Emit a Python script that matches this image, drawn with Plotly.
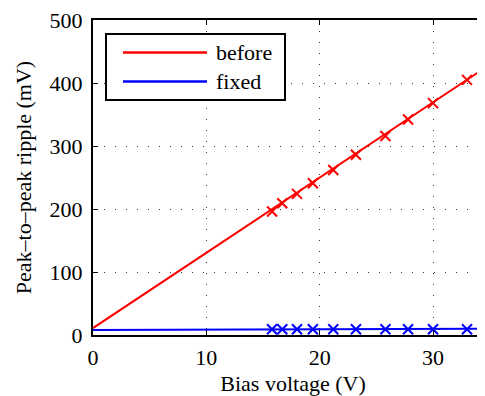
import plotly.graph_objects as go

bias_v = [15.8, 16.7, 18.0, 19.4, 21.2, 23.2, 25.8, 27.8, 30.0, 33.0]
ripple_before = [196, 209, 224, 241, 262, 286, 316, 342, 368, 405]
ripple_fixed = [9, 9, 9, 9, 9, 9, 9, 9, 9, 9]
fit_x = [0, 36]
fit_before = [11, 441]
fit_fixed = [8, 10]
series_names = ["before", "fixed"]
series_colors = ["#ff0000", "#0000ff"]

x_ticks = [0, 10, 20, 30]
y_ticks = [0, 100, 200, 300, 400, 500]

FONT = "Liberation Serif"
FS = 22
OFF = 8  # page body offset
W, H = 485, 396
PLOT_L, PLOT_T, PLOT_B = 93, 20, 335  # as seen on the page
L, T = PLOT_L - OFF, PLOT_T - OFF
B = H - (PLOT_B - OFF)
R = 0
PW, PH = W - L - R, H - T - B

def px(x):
    return (x - PLOT_L) / PW

def py(y):
    return (PLOT_B - y) / PH

fig = go.Figure()
fig.add_trace(go.Scatter(x=fit_x, y=fit_before, mode="lines", name=series_names[0],
                         showlegend=False, line=dict(color=series_colors[0], width=2)))
fig.add_trace(go.Scatter(x=fit_x, y=fit_fixed, mode="lines", name=series_names[1],
                         showlegend=False, line=dict(color=series_colors[1], width=2)))
fig.add_trace(go.Scatter(x=bias_v, y=ripple_before, mode="markers", showlegend=False,
                         marker=dict(symbol="x-thin", size=10, line=dict(color=series_colors[0], width=2))))
fig.add_trace(go.Scatter(x=bias_v, y=ripple_fixed, mode="markers", showlegend=False,
                         marker=dict(symbol="x-thin", size=10, line=dict(color=series_colors[1], width=2))))

# legend drawn as a MATLAB-style box
shapes = [dict(type="rect", xref="paper", yref="paper",
               x0=px(106), x1=px(285), y0=py(100), y1=py(34),
               line=dict(color="black", width=2), fillcolor="white", layer="above")]
annotations = []
for i, (nm, col) in enumerate(zip(series_names, series_colors)):
    yy = 52.5 + i * 29
    shapes.append(dict(type="line", xref="paper", yref="paper",
                       x0=px(123), x1=px(207), y0=py(yy), y1=py(yy),
                       line=dict(color=col, width=2.5), layer="above"))
    annotations.append(dict(text=nm, xref="paper", yref="paper", x=px(214), y=py(yy),
                            xanchor="left", yanchor="middle", showarrow=False,
                            font=dict(family=FONT, size=FS, color="black")))

fig.update_layout(
    width=W, height=H,
    margin=dict(l=L, r=R, t=T, b=B),
    paper_bgcolor="white", plot_bgcolor="white",
    font=dict(family=FONT, size=FS, color="black"),
    showlegend=False,
    shapes=shapes, annotations=annotations,
    xaxis=dict(range=[0, (W + OFF - PLOT_L) / ((433 - 93) / 30)], tickvals=x_ticks,
               showgrid=True, gridcolor="#333",
               griddash="1px,10px", gridwidth=1, zeroline=False, showline=True,
               linecolor="black", linewidth=2, mirror="ticks", ticks="inside",
               ticklen=5, tickcolor="black", automargin=False, ticklabelstandoff=2,
               tickfont=dict(family=FONT, size=FS, color="black"),
               title=dict(text="Bias voltage (V)", standoff=6,
                          font=dict(family=FONT, size=FS, color="black"))),
    yaxis=dict(range=[0, 500.01], tickvals=y_ticks, showgrid=True, gridcolor="#333",
               griddash="1px,10px", gridwidth=1, zeroline=False, showline=True,
               linecolor="black", linewidth=2, mirror=False, ticks="inside",
               ticklen=5, tickcolor="black", automargin=False, ticklabelstandoff=4,
               ticklabeloverflow="allow",
               tickfont=dict(family=FONT, size=FS, color="black"),
               title=dict(text="Peak–to–peak ripple (mV)", standoff=12,
                          font=dict(family=FONT, size=FS, color="black"))),
)
fig.write_html("out.html")
